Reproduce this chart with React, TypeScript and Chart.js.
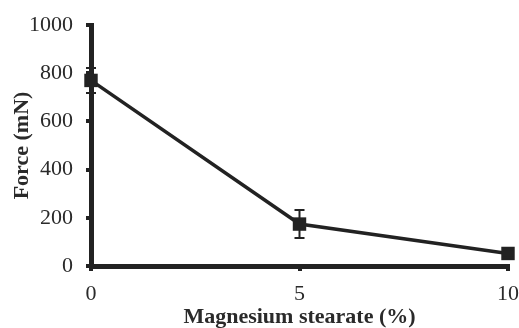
import React, { useEffect, useRef } from "react";
import { Chart, registerables } from "chart.js";

Chart.register(...registerables);

const stearatePct = [0, 5, 10];
const forceMN = [770, 174, 52];
const forceErr = [52, 58, 18];
const yTicks = [0, 200, 400, 600, 800, 1000];
const xTicks = [0, 5, 10];

const INK = "#222222";
const TEXT = "#2a2a2a";
const SERIF = "'Liberation Serif', 'DejaVu Serif', serif";

const errorBarPlugin = {
  id: "errorBars",
  afterDatasetsDraw(chart: any) {
    const ctx = chart.ctx;
    const xs = chart.scales.x;
    const ys = chart.scales.y;
    ctx.save();
    ctx.strokeStyle = INK;
    ctx.lineWidth = 2;
    stearatePct.forEach((xv, i) => {
      const x = xs.getPixelForValue(xv);
      const yTop = ys.getPixelForValue(forceMN[i] + forceErr[i]);
      const yBot = ys.getPixelForValue(forceMN[i] - forceErr[i]);
      ctx.beginPath();
      ctx.moveTo(x, yTop);
      ctx.lineTo(x, yBot);
      ctx.moveTo(x - 5, yTop);
      ctx.lineTo(x + 5, yTop);
      ctx.moveTo(x - 5, yBot);
      ctx.lineTo(x + 5, yBot);
      ctx.stroke();
    });
    ctx.restore();
  },
};

const zeroPad = (s: any) => {
  s.paddingLeft = 0;
  s.paddingRight = 0;
  s.paddingTop = 0;
  s.paddingBottom = 0;
};

export default function App() {
  const ref = useRef<HTMLCanvasElement>(null);
  useEffect(() => {
    if (!ref.current) return;
    const chart = new Chart(ref.current, {
      type: "line",
      data: {
        datasets: [
          {
            data: stearatePct.map((x, i) => ({ x, y: forceMN[i] })),
            borderColor: INK,
            backgroundColor: INK,
            borderWidth: 3.5,
            pointStyle: "rect",
            pointRadius: 9.5,
            pointBorderWidth: 0,
            pointBackgroundColor: INK,
            clip: false as any,
          },
        ],
      },
      options: {
        animation: false,
        responsive: false,
        maintainAspectRatio: false,
        layout: { padding: { top: 25, right: 11, left: 0, bottom: 0 } },
        plugins: { legend: { display: false }, tooltip: { enabled: false } },
        scales: {
          x: {
            type: "linear",
            min: 0,
            max: 10,
            afterBuildTicks: (s: any) => {
              s.ticks = xTicks.map((v) => ({ value: v }));
            },
            afterFit: (s: any) => {
              s.height = 62;
              zeroPad(s);
            },
            ticks: {
              color: TEXT,
              font: { family: SERIF, size: 22 },
              padding: 10,
              maxRotation: 0,
              callback: (v: any) => String(v),
            },
            grid: {
              drawOnChartArea: false,
              drawTicks: true,
              tickLength: 5,
              color: INK,
              lineWidth: 4,
            },
            border: { display: true, color: INK, width: 5 },
            title: {
              display: true,
              text: "Magnesium stearate (%)",
              color: TEXT,
              font: { family: SERIF, size: 22, weight: "bold", lineHeight: 1 },
              padding: { top: 0, bottom: 0 },
            },
          },
          y: {
            type: "linear",
            min: 0,
            max: 1000,
            afterBuildTicks: (s: any) => {
              s.ticks = yTicks.map((v) => ({ value: v }));
            },
            afterFit: (s: any) => {
              s.width = 91;
              zeroPad(s);
            },
            ticks: {
              color: TEXT,
              font: { family: SERIF, size: 22 },
              padding: 13,
              callback: (v: any) => String(v),
            },
            grid: {
              drawOnChartArea: false,
              drawTicks: true,
              tickLength: 5,
              color: INK,
              lineWidth: 4,
            },
            border: { display: true, color: INK, width: 5 },
            title: {
              display: true,
              text: "Force (mN)",
              color: TEXT,
              font: { family: SERIF, size: 22, weight: "bold", lineHeight: 1 },
              padding: { top: 11, bottom: 0 },
            },
          },
        },
      },
      plugins: [errorBarPlugin],
    });
    return () => chart.destroy();
  }, []);
  return (
    <div style={{ position: "fixed", left: 0, top: 0, width: 519, height: 328, background: "#fff" }}>
      <canvas ref={ref} width={519} height={328} />
    </div>
  );
}
